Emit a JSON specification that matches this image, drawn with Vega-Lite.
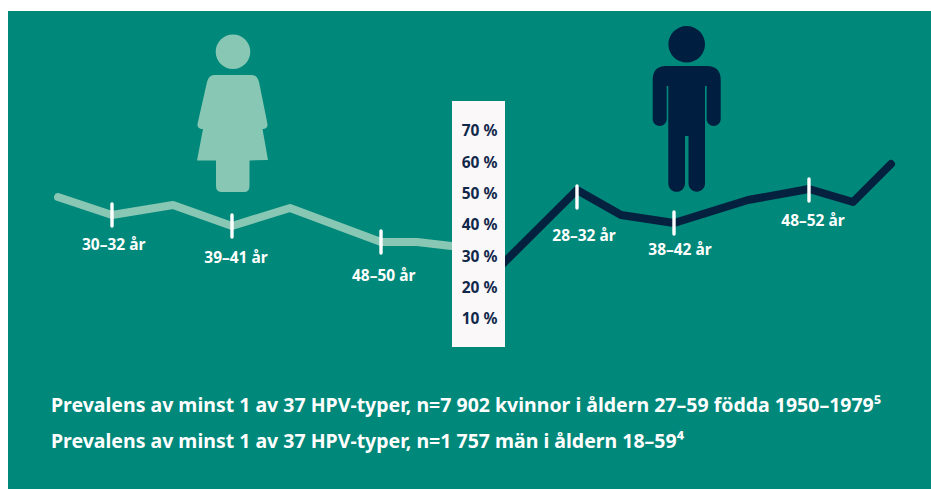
{"$schema":"https://vega.github.io/schema/vega-lite/v6.json","width":931,"height":489,"autosize":{"type":"fit","contains":"padding"},"padding":0,"background":"#ffffff","config":{"view":{"stroke":null}},
"datasets":{
"panels":[{"x":8,"x2":931,"y":108.3,"y2":-44.27,"c":"bg"}],
"scale":[{"x":452,"x2":505,"y":79.58,"y2":1.06}],
"lines":[
{"s":"Kvinnor","x":58,"p":48.93},{"s":"Kvinnor","x":112,"p":43.19},{"s":"Kvinnor","x":173,"p":46.38},{"s":"Kvinnor","x":232,"p":39.68},{"s":"Kvinnor","x":290,"p":45.42},{"s":"Kvinnor","x":381,"p":34.57},{"s":"Kvinnor","x":417,"p":34.57},{"s":"Kvinnor","x":460,"p":32.97},
{"s":"Män","x":490,"p":23.53},{"s":"Män","x":577,"p":51.17},{"s":"Män","x":621,"p":43.19},{"s":"Män","x":674,"p":40.63},{"s":"Män","x":748,"p":47.98},{"s":"Män","x":809,"p":51.49},{"s":"Män","x":853,"p":47.34},{"s":"Män","x":891,"p":59.47}],
"ticks":[{"x":112,"a":46.7,"b":39.68},{"x":232,"a":43.19,"b":36.17},{"x":381,"a":38.08,"b":31.06},{"x":577,"a":52.44,"b":45.42},{"x":674,"a":44.15,"b":37.12},{"x":809,"a":54.68,"b":47.66}],
"labels":[{"x":113.7,"p":33.61,"t":"30–32 år"},{"x":236,"p":29.46,"t":"39–41 år"},{"x":383.7,"p":23.72,"t":"48–50 år"},{"x":584,"p":36.49,"t":"28–32 år"},{"x":680,"p":32.02,"t":"38–42 år"},{"x":813,"p":41.27,"t":"48–52 år"}],
"notes":[{"x":51,"p":-17.77,"t":"Prevalens av minst 1 av 37 HPV-typer, n=7 902 kvinnor i åldern 27–59 födda 1950–1979⁵"},{"x":51,"p":-29.27,"t":"Prevalens av minst 1 av 37 HPV-typer, n=1 757 män i åldern 18–59⁴"}],
"woman":[{"x":233,"p":75.75}],
"man":[{"x":686.7,"p":75.75}]
},
"layer":[
{"data":{"name":"panels"},"mark":{"type":"rect","color":"#00887a"},"encoding":{"x":{"field":"x","type":"quantitative","scale":{"domain":[0,931],"nice":false,"zero":false},"axis":null},"x2":{"field":"x2"},"y":{"field":"y","type":"quantitative","scale":{"domain":[-44.27,111.81],"nice":false,"zero":false},"axis":{"orient":"left","offset":-499,"values":[10,20,30,40,50,60,70],"labelExpr":"datum.value + ' %'","domain":false,"ticks":false,"grid":false,"title":null,"labelFont":"Noto Sans","labelFontSize":15.5,"labelFontWeight":700,"labelColor":"#12284b","labelPadding":2,"zindex":1}},"y2":{"field":"y2"}}},
{"data":{"name":"woman"},"mark":{"type":"point","filled":true,"size":40000,"color":"#88c7b3","opacity":1,"shape":"M -0.173,-0.613 A 0.173 0.173 0 1 1 0.173,-0.613 A 0.173 0.173 0 1 1 -0.173,-0.613 Z M -0.19,-0.38 L 0.19,-0.38 Q 0.24,-0.38 0.26,-0.31 L 0.345,0.11 Q 0.35,0.15 0.31,0.16 L 0.295,0.16 L 0.35,0.47 L 0.165,0.475 L 0.165,0.73 Q 0.165,0.79 0.11,0.79 L -0.11,0.79 Q -0.17,0.79 -0.17,0.73 L -0.17,0.475 L -0.36,0.475 L -0.30,0.16 L -0.32,0.16 Q -0.36,0.15 -0.355,0.11 L -0.26,-0.31 Q -0.24,-0.38 -0.19,-0.38 Z"},"encoding":{"x":{"field":"x","type":"quantitative"},"y":{"field":"p","type":"quantitative"}}},
{"data":{"name":"man"},"mark":{"type":"point","filled":true,"size":40000,"color":"#001f40","opacity":1,"shape":"M -0.183,-0.687 A 0.183 0.183 0 1 1 0.183,-0.687 A 0.183 0.183 0 1 1 -0.183,-0.687 Z M -0.207,-0.47 L 0.203,-0.47 Q 0.34,-0.47 0.34,-0.33 L 0.34,0.06 A 0.07 0.07 0 0 1 0.20,0.06 L 0.20,-0.27 L 0.183,-0.27 L 0.183,0.705 A 0.0825 0.0825 0 0 1 0.018,0.705 L 0.018,0.23 L -0.017,0.23 L -0.017,0.705 A 0.0835 0.0835 0 0 1 -0.184,0.705 L -0.184,-0.27 L -0.20,-0.27 L -0.20,0.06 A 0.07 0.07 0 0 1 -0.34,0.06 L -0.34,-0.33 Q -0.34,-0.47 -0.207,-0.47 Z"},"encoding":{"x":{"field":"x","type":"quantitative"},"y":{"field":"p","type":"quantitative"}}},
{"data":{"name":"lines"},"mark":{"type":"line","strokeWidth":8,"strokeCap":"round","strokeJoin":"round"},"encoding":{"x":{"field":"x","type":"quantitative"},"y":{"field":"p","type":"quantitative"},"color":{"field":"s","type":"nominal","scale":{"domain":["Kvinnor","Män"],"range":["#88c7b3","#04223f"]},"legend":null}}},
{"data":{"name":"ticks"},"mark":{"type":"rule","color":"#ffffff","strokeWidth":3.4,"strokeCap":"round"},"encoding":{"x":{"field":"x","type":"quantitative"},"y":{"field":"a","type":"quantitative"},"y2":{"field":"b"}}},
{"data":{"name":"scale"},"mark":{"type":"rect","color":"#faf8f9"},"encoding":{"x":{"field":"x","type":"quantitative"},"x2":{"field":"x2"},"y":{"field":"y","type":"quantitative"},"y2":{"field":"y2"}}},
{"data":{"name":"labels"},"mark":{"type":"text","color":"#ffffff","font":"Noto Sans","fontSize":15.5,"fontWeight":700,"align":"center","baseline":"middle"},"encoding":{"x":{"field":"x","type":"quantitative"},"y":{"field":"p","type":"quantitative"},"text":{"field":"t"}}},
{"data":{"name":"notes"},"mark":{"type":"text","color":"#ffffff","font":"Noto Sans","fontSize":19.5,"fontWeight":700,"align":"left","baseline":"middle"},"encoding":{"x":{"field":"x","type":"quantitative"},"y":{"field":"p","type":"quantitative"},"text":{"field":"t"}}}
]}
